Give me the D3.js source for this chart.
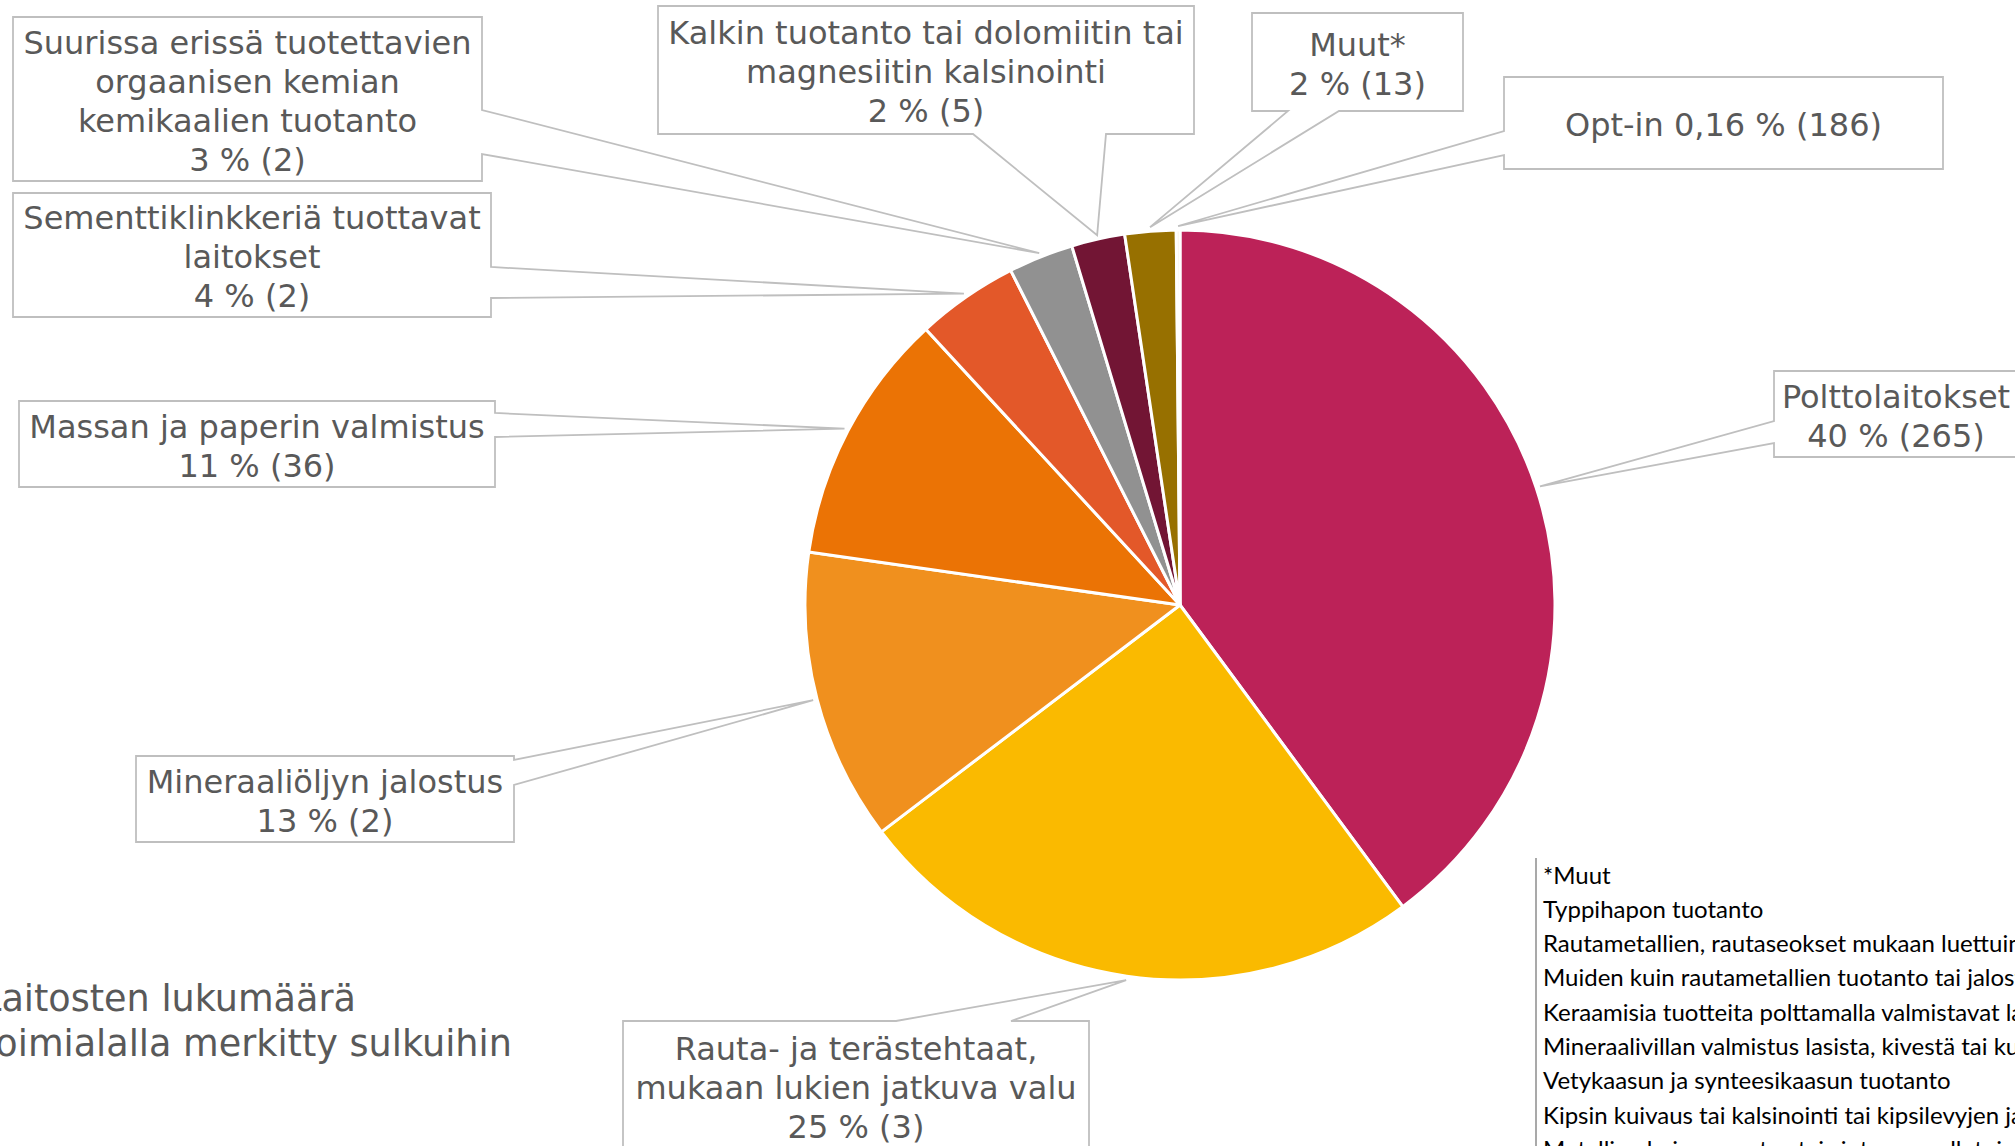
<!DOCTYPE html>
<html>
<head>
<meta charset="utf-8">
<script src="https://cdn.jsdelivr.net/npm/d3@7"></script>
<style>
  body { margin: 0; background: #fff; overflow: hidden; }
  svg { display: block; }
</style>
</head>
<body>
<svg id="chart"></svg>
<script>
// sectors, clockwise from 12 o'clock
let categories = ["Polttolaitokset", "Rauta- ja terästehtaat", "Mineraaliöljyn jalostus",
    "Massan ja paperin valmistus", "Sementtiklinkkeriä tuottavat laitokset",
    "Suurissa erissä tuotettavien orgaanisen kemian kemikaalien tuotanto",
    "Kalkin tuotanto tai dolomiitin tai magnesiitin kalsinointi", "Muut*", "Opt-in"];
let shares = [39.9, 24.8, 12.6, 10.9, 4.4, 2.8, 2.3, 2.2, 0.16];
let shareLabels = ["40 %", "25 %", "13 %", "11 %", "4 %", "3 %", "2 %", "2 %", "0,16 %"];
let counts = [265, 3, 2, 36, 2, 2, 5, 13, 186];
let colors = ["#BC2258", "#FABA00", "#F0901E", "#EB7305", "#E35829", "#919191", "#721534", "#977000", "#F6EFE0"];

// how each name wraps inside its callout
let nameLines = [
    ["Polttolaitokset"],
    ["Rauta- ja terästehtaat,", "mukaan lukien jatkuva valu"],
    ["Mineraaliöljyn jalostus"],
    ["Massan ja paperin valmistus"],
    ["Sementtiklinkkeriä tuottavat", "laitokset"],
    ["Suurissa erissä tuotettavien", "orgaanisen kemian", "kemikaalien tuotanto"],
    ["Kalkin tuotanto tai dolomiitin tai", "magnesiitin kalsinointi"],
    ["Muut*"],
    []
];

let muutList = ["*Muut", "Typpihapon tuotanto",
    "Rautametallien, rautaseokset mukaan luettuina, tuotanto tai jalostus",
    "Muiden kuin rautametallien tuotanto  tai jalostus",
    "Keraamisia tuotteita polttamalla valmistavat laitokset",
    "Mineraalivillan valmistus lasista, kivestä tai kuonasta",
    "Vetykaasun ja synteesikaasun tuotanto",
    "Kipsin kuivaus tai kalsinointi tai kipsilevyjen ja muiden kipsituotteiden tuotanto",
    "Metallimalmien pasutus tai sintraus, pelletointi mukaan luettuna"];

let noteLines = ["Laitosten lukumäärä", "toimialalla merkitty sulkuihin"];

// hand placed callout boxes (x0, y0, x1, y1), side of the pointer and its base
let callouts = [
    { box: [1774, 371, 2018, 457], side: "left", base: [421, 443] },
    { box: [623, 1021, 1089, 1151], side: "top", base: [896, 1011] },
    { box: [136, 756, 514, 842], side: "right", base: [760, 785] },
    { box: [19, 401, 495, 487], side: "right", base: [413, 437] },
    { box: [13, 193, 491, 317], side: "right", base: [267, 298] },
    { box: [13, 17, 482, 181], side: "right", base: [110, 154] },
    { box: [658, 6, 1194, 134], side: "bottom", base: [973, 1106] },
    { box: [1252, 13, 1463, 111], side: "bottom", base: [1288, 1339] },
    { box: [1504, 77, 1943, 169], side: "left", base: [131, 155] }
];

function drawChart() {
    let w = 2015, h = 1146;
    let cx = 1180, cy = 605, r = 375;

    let svg = d3.select("#chart")
        .attr("width", w)
        .attr("height", h);

    let pie = d3.pie().sort(null).value(d => d);
    let arcs = pie(shares);

    let arc = d3.arc().innerRadius(0).outerRadius(r);
    let tipArc = d3.arc().innerRadius(r + 4).outerRadius(r + 4);

    let g = svg.append("g").attr("transform", `translate(${cx},${cy})`);

    g.selectAll("path")
        .data(arcs)
        .enter()
        .append("path")
        .attr("d", arc)
        .attr("fill", (d, i) => colors[i])
        .attr("stroke", "#fff")
        .attr("stroke-width", 3)
        .attr("stroke-linejoin", "round");

    // callouts
    let labels = svg.append("g");
    arcs.forEach((d, i) => {
        let c = callouts[i];
        let [x0, y0, x1, y1] = c.box;
        let t = tipArc.centroid(d);
        let tx = t[0] + cx, ty = t[1] + cy;
        let a = c.base[0], b = c.base[1];
        let p;
        if (c.side == "right") {
            p = `M${x0},${y0}H${x1}V${a}L${tx},${ty}L${x1},${b}V${y1}H${x0}Z`;
        } else if (c.side == "left") {
            p = `M${x0},${y0}H${x1}V${y1}H${x0}V${b}L${tx},${ty}L${x0},${a}Z`;
        } else if (c.side == "bottom") {
            p = `M${x0},${y0}H${x1}V${y1}H${b}L${tx},${ty}L${a},${y1}H${x0}Z`;
        } else {
            p = `M${x0},${y0}H${a}L${tx},${ty}L${b},${y0}H${x1}V${y1}H${x0}Z`;
        }
        labels.append("path")
            .attr("d", p)
            .attr("fill", "#fff")
            .attr("stroke", "#BFBFBF")
            .attr("stroke-width", 1.8);

        let valueText = shareLabels[i] + " (" + counts[i] + ")";
        let lines = nameLines[i].slice();
        if (lines.length) lines.push(valueText);
        else lines.push(categories[i] + " " + valueText);

        let lh = 39;
        let midY = (y0 + y1) / 2 + 2;
        let startY = midY - (lines.length - 1) * lh / 2;
        let text = labels.append("text")
            .attr("font-family", "'DejaVu Sans', Verdana, sans-serif")
            .attr("font-size", 32)
            .attr("fill", "#595959")
            .attr("text-anchor", "middle");
        lines.forEach((ln, k) => {
            text.append("tspan")
                .attr("x", (x0 + x1) / 2)
                .attr("y", startY + k * lh)
                .attr("dominant-baseline", "central")
                .text(ln);
        });
    });

    // note at lower left (cut by the page edge)
    svg.append("g").selectAll("text")
        .data(noteLines)
        .enter()
        .append("text")
        .attr("x", -19)
        .attr("y", (d, i) => 998 + i * 45)
        .attr("dominant-baseline", "central")
        .attr("font-family", "'DejaVu Sans', Verdana, sans-serif")
        .attr("font-size", 36.6)
        .attr("fill", "#595959")
        .text(d => d);

    // list of the "Muut" sectors
    svg.append("line")
        .attr("x1", 1536).attr("x2", 1536)
        .attr("y1", 858).attr("y2", h)
        .attr("stroke", "#8C8C8C")
        .attr("stroke-width", 1.5);

    svg.append("g").selectAll("text")
        .data(muutList)
        .enter()
        .append("text")
        .attr("x", 1543)
        .attr("y", (d, i) => 874 + i * 34.3)
        .attr("dominant-baseline", "central")
        .attr("font-family", "Lato, 'Open Sans', sans-serif")
        .attr("font-size", 24)
        .attr("fill", "#000")
        .text(d => d);
}

window.onload = function() {
    drawChart();
}
</script>
</body>
</html>
